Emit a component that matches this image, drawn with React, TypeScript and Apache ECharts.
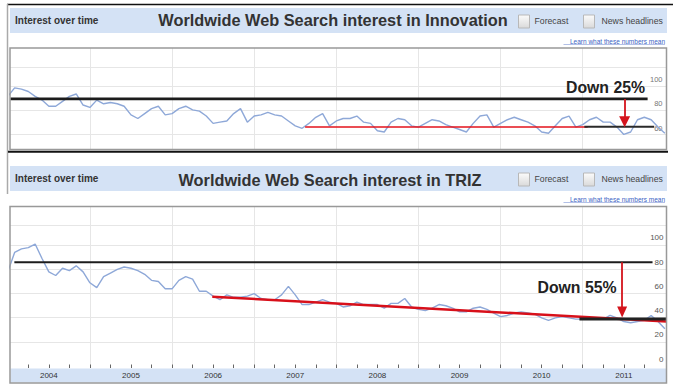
import React, { useEffect, useRef } from 'react';
import * as echarts from 'echarts';

// ---- data (monthly, Jan 2004 .. Jan 2012) ----
const START_YEAR = 2004;

const innovation = [
  86, 93, 92, 90, 86, 83, 78, 78, 82, 86, 88, 79,
  77, 83, 80, 81, 80, 78, 71, 68, 72, 76, 78, 71,
  72, 76, 78, 75, 74, 70, 64, 65, 66, 72, 76, 65,
  70, 71, 73, 71, 70, 66, 62, 60, 64, 69, 72, 62,
  66, 68, 68, 70, 65, 64, 58, 57, 65, 68, 67, 62,
  61, 64, 67, 66, 63, 61, 59, 57, 64, 70, 71, 61,
  64, 67, 69, 67, 65, 62, 57, 56, 62, 68, 70, 61,
  63, 67, 69, 65, 65, 61, 55, 57, 67, 69, 67, 61,
  56,
];

const triz = [
  72, 88, 91, 92, 95, 83, 72, 69, 75, 73, 77, 72,
  63, 59, 68, 71, 74, 76, 75, 73, 70, 65, 64, 58,
  58, 65, 68, 66, 56, 56, 52, 49, 53, 51, 51, 52,
  54, 50, 49, 49, 53, 60, 53, 45, 45, 47, 49, 47,
  46, 43, 44, 47, 45, 45, 45, 42, 46, 46, 50, 43,
  41, 40, 42, 45, 44, 42, 39, 39, 42, 43, 41, 38,
  35, 36, 38, 39, 38, 37, 34, 32, 34, 35, 34, 33,
  33, 33, 34, 33, 36, 34, 31, 30, 31, 32, 36, 31,
  25,
];

const yearLabels = [2004, 2005, 2006, 2007, 2008, 2009, 2010, 2011];
const yearBoundaries = [2005, 2006, 2007, 2008, 2009, 2010, 2011];
const innovationTickLabels = [60, 80, 100];
const trizTickLabels = [0, 20, 40, 60, 80, 100];
const innovationGridLevels = [55, 74.5, 94, 109.5];
const trizGridLevels = [14.2, 34.2, 54.5, 74.4, 94.2, 110.3];

// annotations drawn by the author (time, level)
const innovationPeakLevel = [[2004.03, 84], [2011.79, 84]];
const innovationTrend = [[2007.62, 61], [2011.06, 61]];
const innovationNow = [[2011.02, 61.3], [2011.87, 61.3]];
const innovationArrow = [[2011.51, 84], [2011.51, 65.4]];
const trizPeakLevel = [[2004.08, 80], [2011.85, 80]];
const trizTrend = [[2006.49, 51.5], [2012.02, 31]];
const trizNow = [[2010.96, 33], [2012.02, 33]];
const trizArrow = [[2011.48, 80], [2011.48, 38.8]];

const innovationTitle = 'Worldwide Web Search interest in Innovation';
const trizTitle = 'Worldwide Web Search interest in TRIZ';
const innovationDrop = 'Down 25%';
const trizDrop = 'Down 55%';

// ---- helpers ----
const months = innovation.map((_, i) => START_YEAR + i / 12);
const pair = (vals: number[]) => vals.map((v, i) => [months[i], v]);
const quarterTicks: number[] = [];
yearLabels.forEach((y) => {
  if (y > START_YEAR) quarterTicks.push(y);
  quarterTicks.push(y + 0.25, y + 0.5, y + 0.75);
});
const midYears = yearLabels.map((y) => y + 0.5);

const X_MIN = 2004.027;
const X_MAX = 2012.02;
const FONT = '"Liberation Sans", Arial, sans-serif';
const BAND = '#d4e2f5';

function header(top: number, title: string, titleX: number, titleY: number) {
  const grad = () =>
    new echarts.graphic.LinearGradient(0, 0, 0, 1, [
      { offset: 0, color: '#fbfbfb' },
      { offset: 1, color: '#dadada' },
    ]);
  return [
    { type: 'rect', z: -1, silent: true, shape: { x: 10, y: top, width: 657, height: 25 }, style: { fill: BAND } },
    {
      type: 'text', silent: true, x: 15, y: top + 12.5,
      style: { text: 'Interest over time', fontSize: 10, fontWeight: 'bold', fontFamily: FONT, fill: '#333', align: 'left', verticalAlign: 'middle' },
    },
    {
      type: 'text', silent: true, x: titleX, y: titleY, scaleX: 0.96,
      style: { text: title, fontSize: 17, fontWeight: 'bold', fontFamily: FONT, fill: '#333', align: 'center', verticalAlign: 'middle' },
    },
    { type: 'rect', silent: true, shape: { x: 518.5, y: top + 7, width: 11, height: 13 }, style: { fill: grad(), stroke: '#b8b8b8', lineWidth: 1 } },
    {
      type: 'text', silent: true, x: 534.5, y: top + 13,
      style: { text: 'Forecast', fontSize: 8.7, fontFamily: FONT, fill: '#444', align: 'left', verticalAlign: 'middle' },
    },
    { type: 'rect', silent: true, shape: { x: 583.5, y: top + 7, width: 11, height: 13 }, style: { fill: grad(), stroke: '#b8b8b8', lineWidth: 1 } },
    {
      type: 'text', silent: true, x: 601.5, y: top + 13,
      style: { text: 'News headlines', fontSize: 8.7, fontFamily: FONT, fill: '#444', align: 'left', verticalAlign: 'middle' },
    },
    {
      type: 'text', silent: true, x: 665, y: top + 33.5,
      style: { text: 'Learn what these numbers mean', fontSize: 6.5, fontFamily: FONT, fill: '#3a5fc4', align: 'right', verticalAlign: 'middle' },
    },
    { type: 'line', silent: true, shape: { x1: 563.5, y1: top + 36.5, x2: 665, y2: top + 36.5 }, style: { stroke: '#7d95d6', lineWidth: 0.6 } },
  ];
}

function arrowMark(points: number[][], size: number[]) {
  return {
    silent: true,
    symbol: ['none', 'triangle'],
    symbolSize: size,
    label: { show: false },
    emphasis: { disabled: true },
    lineStyle: { color: '#d4141c', width: 1.8, type: 'solid' },
    data: [[{ coord: points[0] }, { coord: points[1] }]],
  };
}

function seg(xi: number, yi: number, data: number[][], color: string, width: number, z: number, extra: any = {}) {
  return {
    type: 'line', xAxisIndex: xi, yAxisIndex: yi, data, symbol: 'none', showSymbol: false,
    lineStyle: { color, width }, z, silent: true, ...extra,
  };
}

const gridLine = { show: true, lineStyle: { color: '#e6e6e6', width: 1 } };

const option: any = {
  animation: false,
  backgroundColor: '#ffffff',
  grid: [
    { left: 10, right: 6.5, top: 48, height: 102, outerBoundsMode: 'none', containLabel: false },
    { left: 10, right: 6.5, top: 206, height: 162, outerBoundsMode: 'none', containLabel: false },
  ],
  xAxis: [
    {
      type: 'value', gridIndex: 0, min: X_MIN, max: X_MAX, position: 'bottom',
      axisLine: { show: false }, axisLabel: { show: false },
      axisTick: { show: false, customValues: yearBoundaries },
      splitLine: gridLine,
    },
    {
      // year gridlines of the lower chart
      type: 'value', gridIndex: 1, min: X_MIN, max: X_MAX, position: 'top',
      axisLine: { show: false }, axisLabel: { show: false },
      axisTick: { show: false, customValues: yearBoundaries },
      splitLine: gridLine,
    },
    {
      // quarter ticks + year labels of the lower chart
      type: 'value', gridIndex: 1, min: X_MIN, max: X_MAX, position: 'bottom',
      axisLine: { show: false },
      axisTick: { show: true, inside: true, length: 3.5, customValues: quarterTicks, lineStyle: { color: '#666', width: 1 } },
      axisLabel: {
        show: true, customValues: midYears, margin: 3.5,
        formatter: (v: number) => String(Math.floor(v)),
        fontSize: 8, fontFamily: FONT, color: '#333',
      },
      splitLine: { show: false },
    },
  ],
  yAxis: [
    {
      type: 'value', gridIndex: 0, min: 42.3, max: 125.5, position: 'right',
      axisLine: { show: false },
      axisTick: { show: false, customValues: innovationGridLevels },
      axisLabel: { show: true, inside: true, margin: 4, customValues: innovationTickLabels, fontSize: 7.5, fontFamily: FONT, color: '#777' },
      splitLine: gridLine,
    },
    {
      type: 'value', gridIndex: 1, min: -7.4, max: 126.4, position: 'right',
      axisLine: { show: false },
      axisTick: { show: false, customValues: trizGridLevels },
      axisLabel: { show: true, inside: true, margin: 3, customValues: trizTickLabels, fontSize: 8, fontFamily: FONT, color: '#555' },
      splitLine: gridLine,
    },
  ],
  series: [
    seg(0, 0, pair(innovation), '#8ea8d8', 1.4, 2),
    seg(0, 0, innovationPeakLevel, '#1c1c1c', 2.6, 3),
    seg(0, 0, innovationTrend, '#e3121b', 1.5, 3, { markLine: arrowMark(innovationArrow, [11, 11]) }),
    seg(0, 0, innovationNow, '#2a2a2a', 2, 4),
    seg(2, 1, pair(triz), '#8ea8d8', 1.4, 2),
    seg(2, 1, trizPeakLevel, '#1c1c1c', 2, 3),
    seg(2, 1, trizTrend, '#d8101a', 2.5, 3, { markLine: arrowMark(trizArrow, [10, 11]) }),
    seg(2, 1, trizNow, '#222', 3, 4),
  ],
  graphic: {
    elements: [
      { type: 'line', silent: true, shape: { x1: 7, y1: 4.5, x2: 673, y2: 4.5 }, style: { stroke: '#111', lineWidth: 1.6 } },
      { type: 'line', silent: true, shape: { x1: 7.5, y1: 4, x2: 7.5, y2: 194 }, style: { stroke: '#aaa', lineWidth: 1.5 } },
      ...header(8, innovationTitle, 333, 20),
      { type: 'rect', silent: true, z: 10, shape: { x: 10, y: 48, width: 656.5, height: 101.5 }, style: { fill: 'none', stroke: '#999', lineWidth: 1.5 } },
      { type: 'line', silent: true, z: 11, shape: { x1: 8, y1: 151.7, x2: 668, y2: 151.7 }, style: { stroke: '#111', lineWidth: 2 } },
      ...header(166, trizTitle, 330, 180.5),
      { type: 'rect', silent: true, z: -1, shape: { x: 10.5, y: 368.5, width: 655.5, height: 14 }, style: { fill: BAND } },
      { type: 'rect', silent: true, z: 10, shape: { x: 10, y: 206.5, width: 656.5, height: 176.5 }, style: { fill: 'none', stroke: '#999', lineWidth: 1.5 } },
      {
        type: 'text', silent: true, z: 12, x: 605.5, y: 87, scaleX: 0.93,
        style: { text: innovationDrop, fontSize: 17, fontWeight: 'bold', fontFamily: FONT, fill: '#222', align: 'center', verticalAlign: 'middle' },
      },
      {
        type: 'text', silent: true, z: 12, x: 577, y: 287, scaleX: 0.93,
        style: { text: trizDrop, fontSize: 17, fontWeight: 'bold', fontFamily: FONT, fill: '#222', align: 'center', verticalAlign: 'middle' },
      },
    ],
  },
};

export default function App() {
  const ref = useRef<HTMLDivElement>(null);
  useEffect(() => {
    if (!ref.current) return;
    const chart = echarts.init(ref.current, null, { renderer: 'svg', width: 673, height: 386 });
    chart.setOption(option);
    return () => chart.dispose();
  }, []);
  return (
    <div
      ref={ref}
      style={{ position: 'absolute', left: 0, top: 0, width: 673, height: 386, background: '#fff' }}
    />
  );
}
